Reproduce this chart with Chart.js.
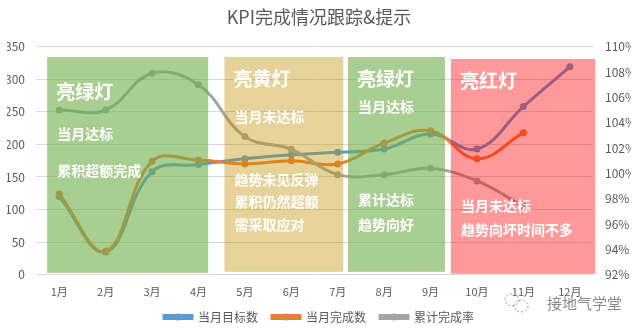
<!DOCTYPE html>
<html>
<head>
<meta charset="utf-8">
<script src="https://cdn.jsdelivr.net/npm/chart.js@4.4.1/dist/chart.umd.min.js"></script>
<style>
  html, body { margin: 0; padding: 0; background: #fff; }
  #wrap { width: 634px; height: 335px; }
</style>
</head>
<body>
<div id="wrap"><canvas id="myChart" width="634" height="335"></canvas></div>
<script>
const months = ["1月", "2月", "3月", "4月", "5月", "6月", "7月", "8月", "9月", "10月", "11月", "12月"];
const targetCounts = [120, 35, 158, 169, 178, 184, 188, 193, 216, 193, 258, 319];
const doneCounts = [124, 36, 174, 176, 170, 175, 170, 202, 221, 178, 218, null];
const cumulativeRate = [105.0, 105.0, 107.9, 107.0, 102.9, 101.9, 99.9, 99.9, 100.4, 99.4, 97.4, null];

// traffic-light zones: category index range + left-axis value range
const zones = [
  { from: -0.26, to: 3.21, top: 334, bottom: 3, color: "rgba(112,173,71,0.6)",
    title: "亮绿灯", lines: [["当月达标", 134], ["累积超额完成", 171]], titleY: 92 },
  { from: 3.56, to: 6.12, top: 334, bottom: 4.5, color: "rgba(191,144,0,0.4)",
    title: "亮黄灯", lines: [["当月未达标", 116.5], ["趋势未见反弹", 179.5], ["累积仍然超额", 201.5], ["需采取应对", 225]], titleY: 79 },
  { from: 6.22, to: 8.31, top: 334, bottom: 4.5, color: "rgba(112,173,71,0.6)",
    title: "亮绿灯", lines: [["当月达标", 106.5], ["累计达标", 200], ["趋势向好", 225]], titleY: 79 },
  { from: 8.44, to: 11.55, top: 331, bottom: 1.5, color: "rgba(255,0,0,0.4)",
    title: "亮红灯", lines: [["当月未达标", 206], ["趋势向坏时间不多", 230]], titleY: 81 }
];

const FONT = "'Noto Sans CJK SC', 'Noto Sans', sans-serif";

const zonePlugin = {
  id: "zones",
  afterDatasetsDraw(chart) {
    const ctx = chart.ctx;
    const xs = chart.scales.x;
    const ys = chart.scales.y;
    ctx.save();
    zones.forEach((z) => {
      const x0 = xs.getPixelForValue(z.from);
      const x1 = xs.getPixelForValue(z.to);
      const y0 = ys.getPixelForValue(z.top);
      const y1 = ys.getPixelForValue(z.bottom);
      ctx.fillStyle = z.color;
      ctx.fillRect(x0, y0, x1 - x0, y1 - y0);
      ctx.fillStyle = "#ffffff";
      ctx.textAlign = "left";
      ctx.textBaseline = "middle";
      ctx.font = "bold 19px " + FONT;
      ctx.fillText(z.title, x0 + 9, z.titleY);
      ctx.font = "bold 14px " + FONT;
      z.lines.forEach((l) => ctx.fillText(l[0], x0 + 10, l[1]));
    });
    ctx.restore();
  },
  afterDraw(chart) {
    const ctx = chart.ctx;
    // markers on legend lines
    const boxes = chart.legend.legendHitBoxes || [];
    ctx.save();
    boxes.forEach((b, i) => {
      const ds = chart.data.datasets[i];
      ctx.beginPath();
      ctx.arc(b.left + 14, b.top + b.height / 2, 3.5, 0, Math.PI * 2);
      ctx.fillStyle = ds.borderColor;
      ctx.fill();
    });
    // watermark
    const wx = chart.width - 122;
    const wy = 303;
    ctx.strokeStyle = "#9a9a9a";
    ctx.lineWidth = 1;
    ctx.setLineDash([2, 2]);
    ctx.beginPath();
    ctx.ellipse(wx, wy - 3, 7, 6, 0, 0, Math.PI * 2);
    ctx.stroke();
    ctx.beginPath();
    ctx.ellipse(wx + 9, wy + 3, 7, 6, 0, 0, Math.PI * 2);
    ctx.stroke();
    ctx.setLineDash([]);
    ctx.font = "15px " + FONT;
    ctx.fillStyle = "#8a8a8a";
    ctx.textAlign = "left";
    ctx.textBaseline = "middle";
    ctx.fillText("接地气学堂", wx + 35, wy);
    ctx.restore();
  }
};

const ctx = document.getElementById("myChart").getContext("2d");
const myChart = new Chart(ctx, {
  type: "line",
  data: {
    labels: months,
    datasets: [
      {
        label: "当月目标数",
        data: targetCounts,
        borderColor: "#5B9BD5",
        backgroundColor: "#5B9BD5",
        yAxisID: "y",
        order: 3
      },
      {
        label: "当月完成数",
        data: doneCounts,
        borderColor: "#ED7D31",
        backgroundColor: "#ED7D31",
        yAxisID: "y",
        order: 2
      },
      {
        label: "累计完成率",
        data: cumulativeRate,
        borderColor: "#A5A5A5",
        backgroundColor: "#A5A5A5",
        yAxisID: "y1",
        order: 1
      }
    ]
  },
  options: {
    responsive: false,
    animation: false,
    devicePixelRatio: 1,
    layout: { padding: { left: 7, right: 3, top: 4, bottom: 2 } },
    elements: {
      line: { borderWidth: 3, tension: 0.4, fill: false },
      point: { radius: 3.5, borderWidth: 0 }
    },
    plugins: {
      title: {
        display: true,
        text: "KPI完成情况跟踪&提示",
        color: "#595959",
        font: { family: FONT, size: 18, weight: "normal" },
        padding: { top: 2, bottom: 19 }
      },
      legend: {
        position: "bottom",
        labels: {
          boxWidth: 28,
          boxHeight: 3,
          color: "#595959",
          font: { family: FONT, size: 12 },
          padding: 14,
          sort: (a, b) => a.datasetIndex - b.datasetIndex
        }
      },
      tooltip: { enabled: false }
    },
    scales: {
      x: {
        offset: true,
        grid: { display: false },
        border: { display: false },
        ticks: { color: "#595959", font: { family: FONT, size: 11 }, maxRotation: 0, padding: 2 },
        afterFit: (scale) => { scale.height -= 3; }
      },
      y: {
        position: "left",
        min: 0,
        max: 350,
        ticks: { stepSize: 50, color: "#595959", font: { family: FONT, size: 12 }, padding: 11 },
        grid: { color: "#d9d9d9", drawTicks: false },
        border: { display: false },
        afterFit: (scale) => { scale.width = 29; }
      },
      y1: {
        position: "right",
        min: 92,
        max: 110,
        ticks: { stepSize: 2, color: "#595959", font: { family: FONT, size: 12 }, padding: 12,
                 callback: (v) => v + "%" },
        grid: { display: false, drawTicks: false },
        border: { display: false },
        afterFit: (scale) => { scale.width = 38; }
      }
    }
  },
  plugins: [zonePlugin]
});
</script>
</body>
</html>
